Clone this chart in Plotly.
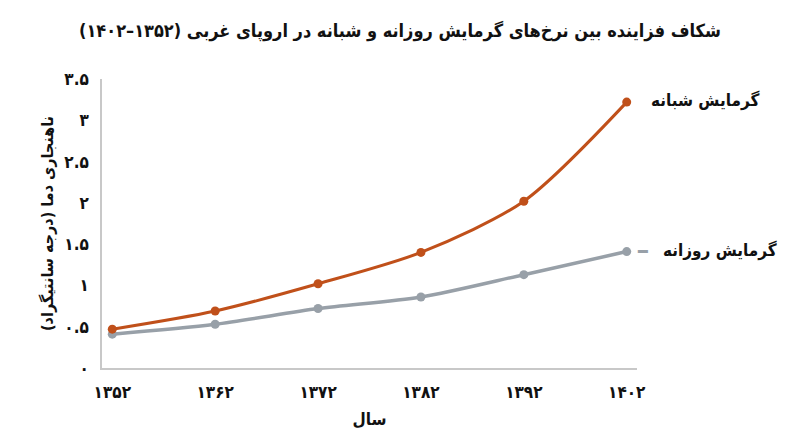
import plotly.graph_objects as go

# data
years = [1352, 1362, 1372, 1382, 1392, 1402]
year_labels = ["۱۳۵۲", "۱۳۶۲", "۱۳۷۲", "۱۳۸۲", "۱۳۹۲", "۱۴۰۲"]
night_warming = [0.47, 0.69, 1.02, 1.40, 2.02, 3.22]
day_warming = [0.41, 0.53, 0.72, 0.86, 1.13, 1.41]
y_ticks = [0, 0.5, 1, 1.5, 2, 2.5, 3, 3.5]
y_labels = ["۰", "۰.۵", "۱", "۱.۵", "۲", "۲.۵", "۳", "۳.۵"]

night_name = "گرمایش شبانه"
day_name = "گرمایش روزانه"

ORANGE = "#c0501a"
GRAY = "#98a0a8"
FONT = "DejaVu Sans Condensed, DejaVu Sans"


def bold(labels):
    return ["<b>" + s + "</b>" for s in labels]


fig = go.Figure()
fig.add_trace(go.Scatter(x=years, y=day_warming, name=day_name, mode="lines+markers",
                         line=dict(color=GRAY, width=3.5, shape="spline", smoothing=0.8),
                         marker=dict(color=GRAY, size=9)))
fig.add_trace(go.Scatter(x=years, y=night_warming, name=night_name, mode="lines+markers",
                         line=dict(color=ORANGE, width=3, shape="spline", smoothing=0.8),
                         marker=dict(color=ORANGE, size=9)))

# end labels
fig.add_annotation(x=years[-1], y=night_warming[-1], text="<b>" + night_name + "</b>",
                   showarrow=False, xanchor="left", xshift=22, yshift=2,
                   font=dict(family=FONT, size=17, color="#111"))
fig.add_annotation(x=years[-1], y=day_warming[-1], text="<b>" + day_name + "</b>",
                   showarrow=False, xanchor="left", xshift=34, yshift=1,
                   font=dict(family=FONT, size=17, color="#111"))
fig.add_annotation(x=years[-1], y=day_warming[-1], text="<b>━</b>",
                   showarrow=False, xanchor="left", xshift=8, yshift=0,
                   font=dict(family=FONT, size=18, color=GRAY))

fig.update_xaxes(range=[1351, 1403], tickvals=years, ticktext=bold(year_labels),
                 showline=True, linecolor="#c8c8c8", linewidth=1.5, showgrid=False,
                 zeroline=False, ticks="", ticklabelstandoff=8, automargin=False,
                 tickfont=dict(family=FONT, size=17, color="#111"),
                 title=dict(text="<b>سال</b>", font=dict(family=FONT, size=17, color="#111"), standoff=12))
fig.update_yaxes(range=[0, 3.5], tickvals=y_ticks, ticktext=bold(y_labels),
                 showline=True, linecolor="#c8c8c8", linewidth=1.5, showgrid=False,
                 zeroline=False, ticks="", ticklabelstandoff=8, automargin=False,
                 tickfont=dict(family=FONT, size=17, color="#111"),
                 title=dict(text="<b>ناهنجاری دما (درجه سانتیگراد)</b>",
                            font=dict(family=FONT, size=16, color="#111"), standoff=7))

fig.update_layout(
    width=800, height=447,
    margin=dict(l=94, r=171, t=71, b=87),
    paper_bgcolor="white", plot_bgcolor="white",
    showlegend=False,
    title=dict(text="<b>شکاف فزاینده بین نرخ‌های گرمایش روزانه و شبانه در اروپای غربی (۱۳۵۲–۱۴۰۲)</b>",
               x=0.49, xanchor="center", y=0.95, yanchor="middle",
               font=dict(family=FONT, size=18, color="#111")),
)

fig.write_html("out.html")
